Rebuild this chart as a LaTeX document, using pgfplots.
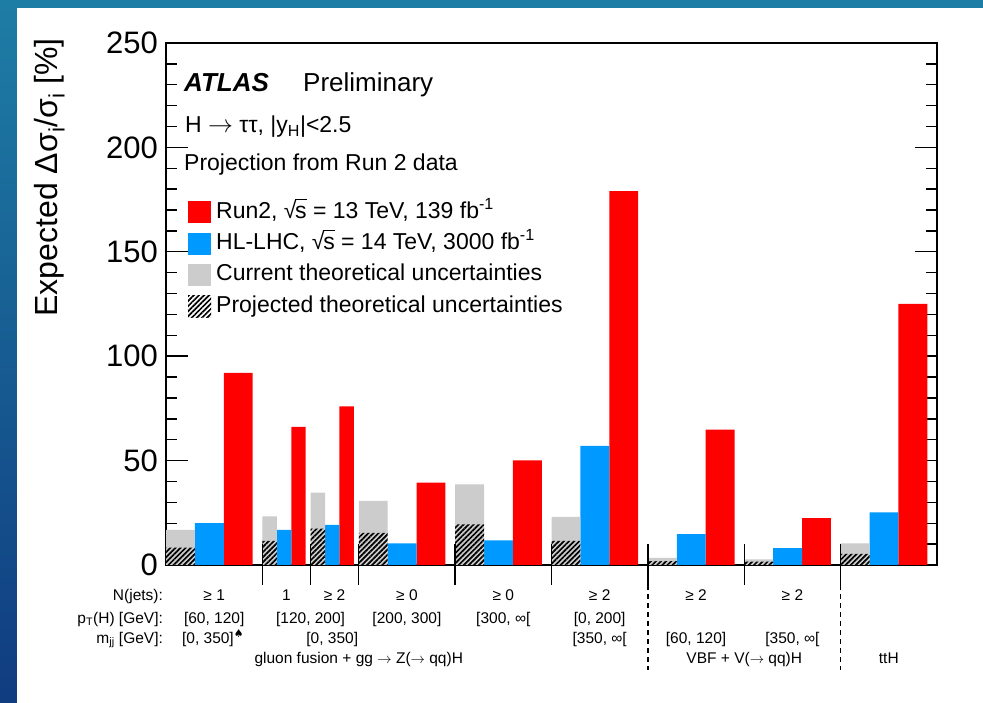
\documentclass[border=0pt]{standalone}
\usepackage{pgfplots}
\pgfplotsset{compat=1.18}
\usepackage{fontspec}
\setmainfont{Liberation Sans}
\newfontfamily\dejavu{DejaVu Sans}
\usetikzlibrary{patterns.meta}
\definecolor{rootred}{RGB}{255,0,0}
\definecolor{rootblue}{RGB}{0,153,255}
\definecolor{rootgrey}{RGB}{204,204,204}
\definecolor{bgtop}{RGB}{30,125,165}
\definecolor{bgbot}{RGB}{16,60,128}
\newcommand{\arr}{\ensuremath{\rightarrow}}
\newcommand{\sqs}{√\kern-0.06em\rlap{\rule[0.80em]{0.5em}{0.055em}}s}
\begin{document}
\begin{tikzpicture}
\useasboundingbox (0pt,0pt) rectangle (983pt,703pt);
\shade[top color=bgtop, bottom color=bgbot] (0pt,0pt) rectangle (983pt,703pt);
\fill[white] (17pt,0pt) rectangle (983pt,695pt);
\begin{axis}[
  at={(166pt,138pt)}, anchor=south west,
  width=771pt, height=522pt, scale only axis,
  xmin=0, xmax=16, ymin=0, ymax=250,
  xtick=\empty,
  ytick={0,50,...,250},
  minor y tick num=4,
  tick align=inside,
  ytick pos=both,
  yticklabel pos=left,
  major tick length=22pt, minor tick length=11pt,
  every tick/.style={black, line width=1.4pt},
  axis line style={line width=1.8pt},
  /pgf/number format/assume math mode=true,
  yticklabel style={font=\fontsize{31}{31}\selectfont, inner sep=0pt, xshift=-8pt},
  clip=false,
  legend image code/.code={\fill[#1] (0pt,-11pt) rectangle (23pt,11pt);},
  legend cell align=left,
  legend style={at={(axis description cs:0.0285,0.697)}, anchor=north west,
    draw=none, fill=none, inner sep=0pt, row sep=9.3pt, column sep=5pt,
    font=\fontsize{23}{23}\selectfont,
    nodes={inner sep=0pt, text height=17pt, text depth=5pt}},
]
% Run2 (red)
\addplot[ybar, bar width=0.6, bar shift=0pt, fill=rootred, draw=none]
  coordinates {(1.5,92) (5.5,39.5) (7.5,50.1) (9.5,179) (11.5,64.8) (13.5,22.5) (15.5,125)};
\addlegendentry{Run2, \sqs{} = 13 TeV, 139 fb\textsuperscript{-1}}
% HL-LHC (blue)
\addplot[ybar, bar width=0.6, bar shift=0pt, fill=rootblue, draw=none]
  coordinates {(0.9,20.0) (4.9,10.3) (6.9,11.8) (8.9,57.1) (10.9,14.8) (12.9,8.1) (14.9,25.2)};
\addlegendentry{HL-LHC, \sqs{} = 14 TeV, 3000 fb\textsuperscript{-1}}
% current theory (grey)
\addplot[ybar, bar width=0.6, bar shift=0pt, fill=rootgrey, draw=none]
  coordinates {(0.3,16.8) (4.3,30.7) (6.3,38.6) (8.3,23.0) (10.3,3.4) (12.3,2.7) (14.3,10.4)};
\addlegendentry{Current theoretical uncertainties}
% projected theory (hatched)
\addplot[ybar, bar width=0.6, bar shift=0pt, draw=none,
  pattern={Lines[angle=45, distance=3.6pt, line width=1.7pt]}, pattern color=black]
  coordinates {(0.3,8.3) (4.3,15.4) (6.3,19.4) (8.3,11.5) (10.3,1.9) (12.3,1.6) (14.3,5.3)};
\addlegendentry{Projected theoretical uncertainties}
% half-width bins
\addplot[forget plot, ybar, bar width=0.3, bar shift=0pt, fill=rootred, draw=none]
  coordinates {(2.75,66.2) (3.75,76.0)};
\addplot[forget plot, ybar, bar width=0.3, bar shift=0pt, fill=rootblue, draw=none]
  coordinates {(2.45,16.8) (3.45,19.2)};
\addplot[forget plot, ybar, bar width=0.3, bar shift=0pt, fill=rootgrey, draw=none]
  coordinates {(2.15,23.3) (3.15,34.6)};
\addplot[forget plot, ybar, bar width=0.3, bar shift=0pt, draw=none,
  pattern={Lines[angle=45, distance=3.6pt, line width=1.7pt]}, pattern color=black]
  coordinates {(2.15,11.6) (3.15,17.4)};
% bin separators
\foreach \xs in {2,3,4,6,8,10,12,14} {
  \edef\tmp{\noexpand\draw[line width=1.4pt] (axis cs:\xs,10) -- (axis cs:\xs,-9.6);}\tmp
}
\draw[line width=1.4pt, dash pattern=on 5pt off 4pt] (axis cs:10,-9.6) -- (axis cs:10,-50.3);
\draw[line width=1.4pt, dash pattern=on 5pt off 4pt] (axis cs:14,-9.6) -- (axis cs:14,-50.3);
% bottom labels
\begin{scope}[every node/.style={font=\fontsize{15.5}{15.5}\selectfont, inner sep=0pt}]
\node[anchor=base east] at (axis cs:-0.06,-16.8) {N(jets):};
\node[anchor=base east] at (axis cs:-0.06,-27.8) {p\textsubscript{T}(H) [GeV]:};
\node[anchor=base east] at (axis cs:-0.06,-37.4) {m\textsubscript{jj} [GeV]:};
\node[anchor=base] at (axis cs:1.0,-16.8) {≥ 1};
\node[anchor=base] at (axis cs:2.5,-16.8) {1};
\node[anchor=base] at (axis cs:3.5,-16.8) {≥ 2};
\node[anchor=base] at (axis cs:5.0,-16.8) {≥ 0};
\node[anchor=base] at (axis cs:7.0,-16.8) {≥ 0};
\node[anchor=base] at (axis cs:9.0,-16.8) {≥ 2};
\node[anchor=base] at (axis cs:11.0,-16.8) {≥ 2};
\node[anchor=base] at (axis cs:13.0,-16.8) {≥ 2};
\node[anchor=base] at (axis cs:1.0,-27.8) {[60, 120]};
\node[anchor=base] at (axis cs:3.0,-27.8) {[120, 200]};
\node[anchor=base] at (axis cs:5.0,-27.8) {[200, 300]};
\node[anchor=base] at (axis cs:7.0,-27.8) {[300, ∞[};
\node[anchor=base] at (axis cs:9.0,-27.8) {[0, 200]};
\node[anchor=base west] at (axis cs:0.33,-37.4) {[0, 350]\textsuperscript{\dejavu ♠}};
\node[anchor=base] at (axis cs:3.45,-37.4) {[0, 350]};
\node[anchor=base] at (axis cs:9.0,-37.4) {[350, ∞[};
\node[anchor=base] at (axis cs:11.0,-37.4) {[60, 120]};
\node[anchor=base] at (axis cs:13.0,-37.4) {[350, ∞[};
\node[anchor=base] at (axis cs:4.0,-47.4) {gluon fusion + gg \arr{} Z(\arr{} qq)H};
\node[anchor=base] at (axis cs:12.0,-47.4) {VBF + V(\arr{} qq)H};
\node[anchor=base] at (axis cs:15.0,-47.4) {ttH};
\end{scope}
\end{axis}
% texts in the plot
\node[anchor=base west, inner sep=0pt, font=\fontsize{26}{26}\selectfont\bfseries\itshape] at (184pt,611pt) {ATLAS};
\node[anchor=base west, inner sep=0pt, font=\fontsize{26}{26}\selectfont] at (303pt,611pt) {Preliminary};
\node[anchor=base west, inner sep=0pt, font=\fontsize{23}{23}\selectfont] at (185pt,570pt) {H \arr{} ττ, |y\textsubscript{H}|<2.5};
\node[anchor=base west, inner sep=0pt, font=\fontsize{23}{23}\selectfont] at (184pt,532pt) {Projection from Run 2 data};
% y label
\node[rotate=90, anchor=base east, inner sep=0pt, font=\fontsize{32}{32}\selectfont] at (57pt,665pt) {Expected Δσ\textsubscript{i}/σ\textsubscript{i} [\%]};
\end{tikzpicture}
\end{document}
